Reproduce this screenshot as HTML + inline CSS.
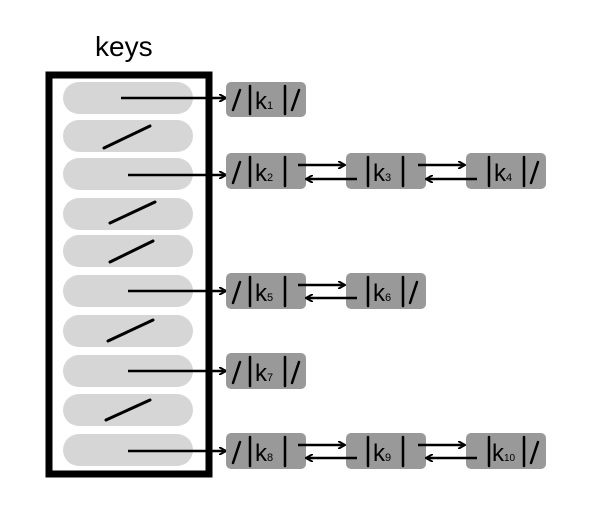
<!DOCTYPE html>
<html><head><style>body{margin:0;background:#fff}svg{display:block}</style></head><body>
<svg width="600" height="521" xmlns="http://www.w3.org/2000/svg" font-family="Liberation Sans, sans-serif">
<defs><marker id="a" markerWidth="8" markerHeight="8" refX="7" refY="4" orient="auto" markerUnits="userSpaceOnUse"><path d="M0,0 L7,4 L0,8" fill="none" stroke="#000" stroke-width="2"/></marker></defs>
<text x="95" y="56" font-size="28" fill="#000">keys</text>
<g fill="#d6d6d6">
<rect x="63" y="82" width="130" height="32" rx="16"/>
<rect x="63" y="120" width="130" height="32" rx="16"/>
<rect x="63" y="158" width="130" height="32" rx="16"/>
<rect x="63" y="198" width="130" height="32" rx="16"/>
<rect x="63" y="235" width="130" height="32" rx="16"/>
<rect x="63" y="275" width="130" height="32" rx="16"/>
<rect x="63" y="315" width="130" height="32" rx="16"/>
<rect x="63" y="355" width="130" height="32" rx="16"/>
<rect x="63" y="394" width="130" height="32" rx="16"/>
<rect x="63" y="434" width="130" height="32" rx="16"/>
</g>
<rect x="49" y="75" width="160" height="399" fill="none" stroke="#000" stroke-width="7"/>
<g stroke="#000" stroke-width="3" stroke-linecap="round">
<line x1="104" y1="148" x2="150" y2="126"/>
<line x1="110" y1="223" x2="155" y2="202"/>
<line x1="110" y1="262" x2="153" y2="241"/>
<line x1="108" y1="341" x2="153" y2="320"/>
<line x1="106" y1="420" x2="150" y2="400"/>
</g>
<g stroke="#000" stroke-width="2.5" marker-end="url(#a)">
<line x1="121" y1="98" x2="226" y2="98"/>
<line x1="128" y1="175" x2="226" y2="175"/>
<line x1="128" y1="291" x2="226" y2="291"/>
<line x1="128" y1="371" x2="226" y2="371"/>
<line x1="128" y1="451" x2="226" y2="451"/>
</g>
<g fill="#999">
<rect x="226" y="82" width="80" height="35" rx="5"/>
<rect x="226" y="153" width="80" height="36" rx="5"/>
<rect x="346" y="153" width="80" height="36" rx="5"/>
<rect x="466" y="153" width="80" height="36" rx="5"/>
<rect x="226" y="273" width="80" height="36" rx="5"/>
<rect x="346" y="273" width="80" height="36" rx="5"/>
<rect x="226" y="353" width="80" height="36" rx="5"/>
<rect x="226" y="433" width="80" height="36" rx="5"/>
<rect x="346" y="433" width="80" height="36" rx="5"/>
<rect x="466" y="433" width="80" height="36" rx="5"/>
</g>
<g stroke="#000" stroke-width="2.5" marker-end="url(#a)">
<line x1="298" y1="165" x2="345" y2="165"/><line x1="357" y1="179" x2="306" y2="179"/>
<line x1="418" y1="165" x2="465" y2="165"/><line x1="477" y1="179" x2="426" y2="179"/>
<line x1="298" y1="285" x2="345" y2="285"/><line x1="357" y1="298" x2="306" y2="298"/>
<line x1="298" y1="445" x2="345" y2="445"/><line x1="357" y1="458" x2="306" y2="458"/>
<line x1="418" y1="445" x2="465" y2="445"/><line x1="477" y1="458" x2="426" y2="458"/>
</g>
<g stroke="#000" stroke-width="2.5" stroke-linecap="round">
<line x1="233" y1="110" x2="240" y2="90"/><line x1="250" y1="86" x2="250" y2="114"/><line x1="285" y1="86" x2="285" y2="114"/><line x1="292" y1="110" x2="299" y2="90"/>
<line x1="233" y1="183" x2="240" y2="162"/><line x1="250" y1="157" x2="250" y2="186"/><line x1="285" y1="157" x2="285" y2="186"/>
<line x1="368" y1="157" x2="368" y2="186"/><line x1="403" y1="157" x2="403" y2="186"/>
<line x1="489" y1="157" x2="489" y2="186"/><line x1="524" y1="157" x2="524" y2="186"/><line x1="531" y1="183" x2="538" y2="162"/>
<line x1="233" y1="303" x2="240" y2="282"/><line x1="250" y1="277" x2="250" y2="306"/><line x1="285" y1="277" x2="285" y2="306"/>
<line x1="368" y1="277" x2="368" y2="306"/><line x1="403" y1="277" x2="403" y2="306"/><line x1="410" y1="303" x2="417" y2="282"/>
<line x1="233" y1="383" x2="240" y2="362"/><line x1="250" y1="357" x2="250" y2="386"/><line x1="285" y1="357" x2="285" y2="386"/><line x1="292" y1="383" x2="299" y2="362"/>
<line x1="233" y1="463" x2="240" y2="442"/><line x1="250" y1="437" x2="250" y2="466"/><line x1="285" y1="437" x2="285" y2="466"/>
<line x1="368" y1="437" x2="368" y2="466"/><line x1="403" y1="437" x2="403" y2="466"/>
<line x1="489" y1="437" x2="489" y2="466"/><line x1="524" y1="437" x2="524" y2="466"/><line x1="531" y1="463" x2="538" y2="442"/>
</g>
<g font-size="24" fill="#000">
<text x="255" y="109">k<tspan font-size="11">1</tspan></text>
<text x="255" y="181">k<tspan font-size="11">2</tspan></text>
<text x="373" y="181">k<tspan font-size="11">3</tspan></text>
<text x="494" y="181">k<tspan font-size="11">4</tspan></text>
<text x="255" y="301">k<tspan font-size="11">5</tspan></text>
<text x="373" y="301">k<tspan font-size="11">6</tspan></text>
<text x="255" y="381">k<tspan font-size="11">7</tspan></text>
<text x="255" y="461">k<tspan font-size="11">8</tspan></text>
<text x="373" y="461">k<tspan font-size="11">9</tspan></text>
<text x="492" y="461">k<tspan font-size="10">10</tspan></text>
</g>
</svg>
</body></html>
